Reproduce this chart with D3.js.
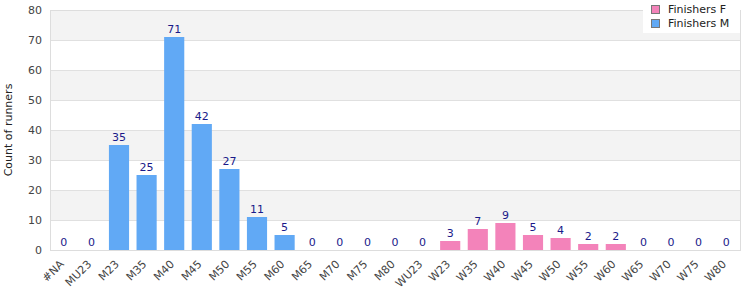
<!DOCTYPE html>
<html lang="en">
<head>
<meta charset="utf-8">
<title>runners</title>
<script src="https://cdn.jsdelivr.net/npm/d3@7"></script>
<style>
  body { margin: 0; background: #fff; }
  text { font-family: "DejaVu Sans", sans-serif; font-size: 11px; }
  .tick text { fill: #444; }
  .val { fill: #1a1a8a; }
</style>
</head>
<body>
<div id="chart"></div>
<script>
var categories = ["#NA", "MU23", "M23", "M35", "M40", "M45", "M50", "M55", "M60", "M65", "M70", "M75", "M80",
  "WU23", "W23", "W35", "W40", "W45", "W50", "W55", "W60", "W65", "W70", "W75", "W80"];
var finishersM = [0, 0, 35, 25, 71, 42, 27, 11, 5, 0, 0, 0, 0, null, null, null, null, null, null, null, null, null, null, null, null];
var finishersF = [null, null, null, null, null, null, null, null, null, null, null, null, null, 0, 3, 7, 9, 5, 4, 2, 2, 0, 0, 0, 0];
var yTicks = [0, 10, 20, 30, 40, 50, 60, 70, 80];

var width = 750, height = 300;
var margin = { top: 10, right: 10, bottom: 50, left: 50 };
var colorM = "#61a9f5", colorF = "#f383ba";

var svg = d3.select("#chart").append("svg")
  .attr("width", width).attr("height", height);

var x = d3.scaleBand().domain(categories)
  .range([margin.left, width - margin.right]).paddingInner(0.27).paddingOuter(0.135);
var y = d3.scaleLinear().domain([0, 80]).range([height - margin.bottom, margin.top]);

// alternating bands
var bands = d3.range(0, 80, 10);
svg.append("g").selectAll("rect").data(bands).enter().append("rect")
  .attr("x", margin.left)
  .attr("width", width - margin.right - margin.left)
  .attr("y", d => y(d + 10))
  .attr("height", d => y(d) - y(d + 10))
  .attr("fill", d => (d / 10) % 2 === 1 ? "#f3f3f3" : "#fff");

svg.append("g").selectAll("line").data(yTicks).enter().append("line")
  .attr("x1", margin.left).attr("x2", width - margin.right)
  .attr("y1", d => Math.round(y(d)) + 0.5).attr("y2", d => Math.round(y(d)) + 0.5)
  .attr("stroke", "#e0e0e0");

svg.append("rect")
  .attr("x", margin.left + 0.5).attr("y", margin.top + 0.5)
  .attr("width", width - margin.right - margin.left)
  .attr("height", height - margin.bottom - margin.top)
  .attr("fill", "none").attr("stroke", "#ddd");

var data = categories.map((c, i) => ({
  cat: c,
  value: finishersM[i] != null ? finishersM[i] : finishersF[i],
  color: finishersM[i] != null ? colorM : colorF
}));

svg.append("g").selectAll("rect").data(data).enter().append("rect")
  .attr("x", d => x(d.cat))
  .attr("width", x.bandwidth())
  .attr("y", d => y(d.value))
  .attr("height", d => y(0) - y(d.value))
  .attr("fill", d => d.color);

svg.append("g").selectAll("text").data(data).enter().append("text")
  .attr("class", "val")
  .attr("x", d => x(d.cat) + x.bandwidth() / 2)
  .attr("y", d => y(d.value) - 4)
  .attr("text-anchor", "middle")
  .text(d => d.value);

var yAxis = svg.append("g")
  .attr("transform", `translate(${margin.left},0)`)
  .call(d3.axisLeft(y).tickValues(yTicks).tickSize(0).tickPadding(8));
yAxis.select(".domain").remove();

var xAxis = svg.append("g")
  .attr("transform", `translate(0,${height - margin.bottom})`)
  .call(d3.axisBottom(x).tickSize(0));
xAxis.select(".domain").remove();
xAxis.selectAll("text")
  .attr("x", 0).attr("y", 0)
  .attr("text-anchor", "end")
  .attr("dy", "0.35em")
  .attr("transform", "translate(-2,12) rotate(-45)");

svg.append("text")
  .attr("transform", `translate(8,${(margin.top + height - margin.bottom) / 2}) rotate(-90)`)
  .attr("text-anchor", "middle")
  .attr("dy", "0.35em")
  .attr("fill", "#222")
  .text("Count of runners");

// legend
var legendItems = [{ name: "Finishers F", color: colorF }, { name: "Finishers M", color: colorM }];
var legend = svg.append("g").attr("transform", "translate(643,0)");
legend.append("rect").attr("width", 97).attr("height", 33).attr("fill", "#fff");
var li = legend.selectAll("g").data(legendItems).enter().append("g")
  .attr("transform", (d, i) => `translate(8,${9 + i * 14})`);
li.append("rect").attr("x", 0.5).attr("y", -3.5).attr("width", 8).attr("height", 8)
  .attr("fill", d => d.color).attr("stroke", "#777");
li.append("text").attr("x", 17).attr("y", 0).attr("dy", "0.35em")
  .attr("fill", "#222").text(d => d.name);
</script>
</body>
</html>
